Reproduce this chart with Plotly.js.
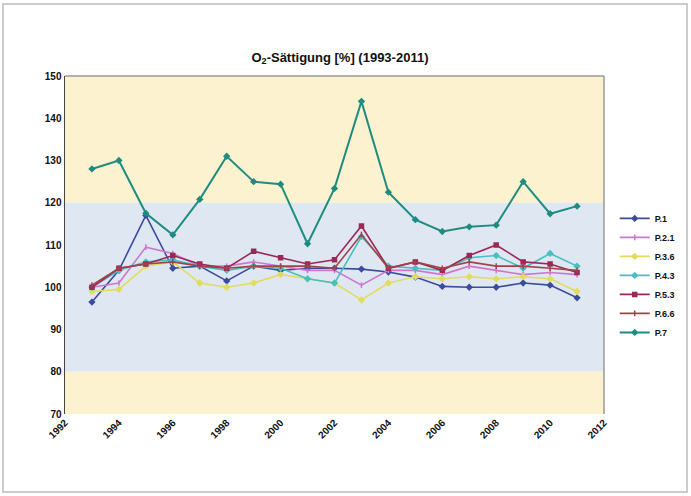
<!DOCTYPE html>
<html>
<head>
<meta charset="utf-8">
<script src="https://cdn.plot.ly/plotly-3.0.1.min.js"></script>
<style>html,body{margin:0;padding:0;background:#fff;}#chart{width:691px;height:496px;}</style>
</head>
<body>
<div id="chart"></div>
<script>
const years = [1993,1994,1995,1996,1997,1998,1999,2000,2001,2002,2003,2004,2005,2006,2007,2008,2009,2010,2011];
const seriesNames = ["P.1","P.2.1","P.3.6","P.4.3","P.5.3","P.6.6","P.7"];
const p1  = [96.5,104,117,104.5,105,101.5,105,104,104.5,104.5,104.3,103.6,102.4,100.2,100,100,101,100.5,97.5];
const p21 = [100,101,109.5,108,105,105,106,105,104,104,100.5,104,104,103,105,104,103,103.5,103];
const p36 = [99,99.5,105,106,101,100,101,103,102,101,97,101,102.5,102,102.5,102,102.5,102,99];
const p43 = [100,104,106,106.5,105,104,105,104.5,102,101,112,105,104.5,104,107,107.5,104.5,108,105];
const p53 = [100,104.5,105.5,107.5,105.5,104.5,108.5,107,105.5,106.5,114.5,104.5,106,104,107.5,110,106,105.5,103.5];
const p66 = [100.5,104.5,105.5,106,105,104.5,105,105,105,104.5,112.5,104.5,106,104.5,106,105,105,104.5,104];
const p7  = [128,130,117.5,112.4,120.8,131,125,124.4,110.3,123.4,144,122.5,116,113.2,114.3,114.7,125,117.4,119.2];
const yTicks = [70,80,90,100,110,120,130,140,150];
const xTicks = [1992,1994,1996,1998,2000,2002,2004,2006,2008,2010,2012];

const allSeries = [p1,p21,p36,p43,p53,p66,p7];
const colors = ["#3c4c9c","#cc77cc","#e2dc5c","#45c0c0","#9c2858","#a04448","#1f8c80"];
const symbols = ["diamond","line-ns-open","diamond","diamond","square","line-ns-open","diamond"];
const traces = allSeries.map((vals,i)=>({
  x: years, y: vals, name: "<b>" + seriesNames[i] + "</b>", type: "scatter", mode: "lines+markers",
  line: {color: colors[i], width: i===6 ? 2 : 1.6},
  marker: {color: colors[i], size: 4, symbol: symbols[i], line:{color: colors[i], width:1.5}}
}));

const layout = {
  width: 691, height: 496,
  margin: {l: 65, r: 86, t: 76, b: 82},
  paper_bgcolor: "#ffffff",
  plot_bgcolor: "rgba(0,0,0,0)",
  font: {family: "Liberation Sans, Arial, sans-serif", color: "#111", size: 10},
  title: {text: "<b>O<sub>2</sub>-Sättigung [%] (1993-2011)</b>", x: 0.492, xanchor: "center", y: 0.885, yanchor: "middle", yref: "container", font: {size: 13, color: "#111"}},
  xaxis: {range: [1992, 2012], tickvals: xTicks, ticktext: xTicks.map(v => "<b>" + v + "</b>"), tickangle: -45, showgrid: false, zeroline: false, showline: false, ticks: "", tickfont: {size: 10, color: "#111"}},
  yaxis: {range: [70, 150], tickvals: yTicks, ticktext: yTicks.map(v => "<b>" + v + "</b>"), showgrid: false, zeroline: false, showline: true, linecolor: "#444", linewidth: 1.5, ticks: "", tickfont: {size: 10, color: "#111"}},
  showlegend: true,
  legend: {x: 1.018, xanchor: "left", y: 0.41, yanchor: "middle", bgcolor: "rgba(0,0,0,0)", font: {size: 9, color: "#111"}, itemwidth: 30},
  shapes: [
    {type: "rect", xref: "paper", yref: "y", x0: 0, x1: 1, y0: 120, y1: 150, fillcolor: "#fdf2cf", line: {width: 0}, layer: "below"},
    {type: "rect", xref: "paper", yref: "y", x0: 0, x1: 1, y0: 80, y1: 120, fillcolor: "#dfe8f2", line: {width: 0}, layer: "below"},
    {type: "rect", xref: "paper", yref: "y", x0: 0, x1: 1, y0: 70, y1: 80, fillcolor: "#fdf2cf", line: {width: 0}, layer: "below"},
    {type: "line", xref: "paper", yref: "paper", x0: 0, x1: 1, y0: 1, y1: 1, line: {color: "#999", width: 1.5}},
    {type: "line", xref: "paper", yref: "paper", x0: 1, x1: 1, y0: 0, y1: 1, line: {color: "#999", width: 1.5}},
    {type: "rect", xref: "paper", yref: "paper", x0: -0.115, x1: 1.154, y0: -0.231, y1: 1.213, line: {color: "#cccccc", width: 2}, fillcolor: "rgba(0,0,0,0)"}
  ]
};
Plotly.newPlot("chart", traces, layout, {displayModeBar: false, staticPlot: true});
</script>
</body>
</html>
